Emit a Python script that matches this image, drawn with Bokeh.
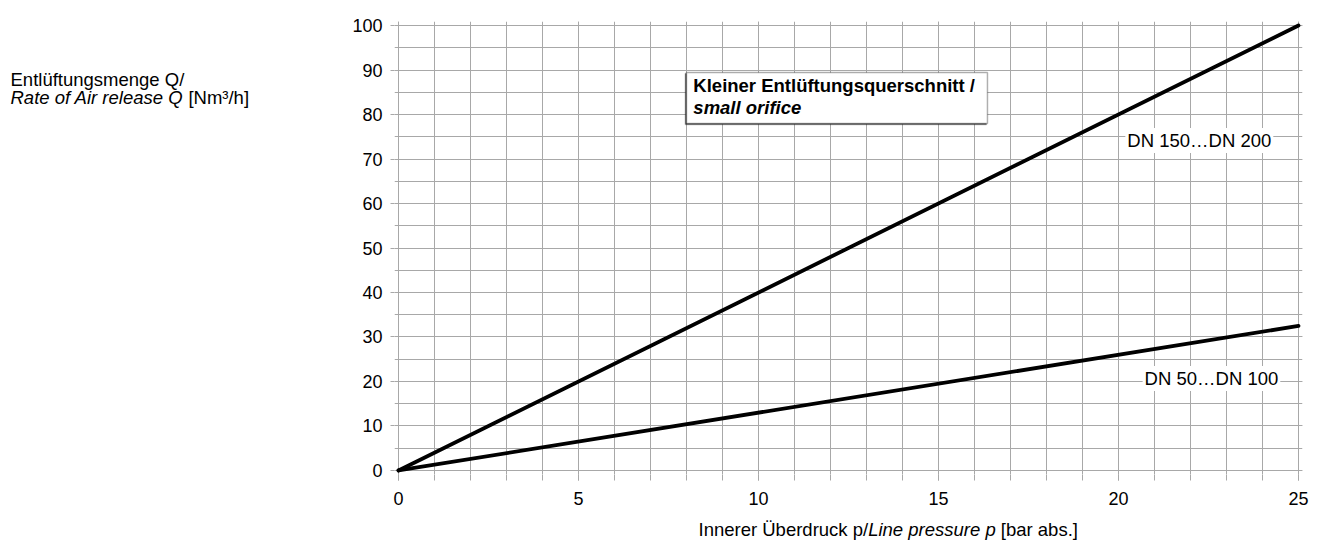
from bokeh.plotting import figure
from bokeh.models import Range1d, SingleIntervalTicker, Label, BoxAnnotation
from bokeh.layouts import row, column
from bokeh.embed import file_html
from bokeh.resources import INLINE

# ---- data ----
pressure = [0, 25]
q_dn150_200 = [0, 100]
q_dn50_100 = [0, 32.5]
series_labels = ["DN 150…DN 200", "DN 50…DN 100"]

FONT = "Liberation Sans"
FS_TICK = "18px"
FS_TXT = 18.5
GRID = "#a8a8a8"

TOTAL_W = 1312
LEFT_W = 338
TOP_H = 515
BOTTOM_H = 35


def add_label(fig, x, y, text, style="normal", bg=None, pad=0):
    kw = dict(x=x, y=y, text=text, text_font=FONT, text_font_size=f"{FS_TXT}px",
              text_font_style=style, text_color="black",
              text_baseline="middle", text_align="left")
    if bg:
        kw["background_fill_color"] = bg
        kw["padding"] = pad
    fig.add_layout(Label(**kw))


def text_figure(w, h):
    f = figure(width=w, height=h, x_range=Range1d(0, w), y_range=Range1d(0, h),
               x_axis_type=None, y_axis_type=None, min_border=0,
               output_backend="svg", toolbar_location=None, title=None)
    f.outline_line_color = None
    f.grid.visible = False
    return f


# ---- main chart ----
p = figure(width=TOTAL_W - LEFT_W, height=TOP_H,
           x_range=Range1d(-0.111, 25.111), y_range=Range1d(-0.9, 100.9),
           output_backend="svg", toolbar_location=None, title=None,
           min_border_left=56, min_border_right=10,
           min_border_top=21, min_border_bottom=41)
p.outline_line_color = None

p.xaxis.ticker = SingleIntervalTicker(interval=5, num_minor_ticks=5)
p.yaxis.ticker = SingleIntervalTicker(interval=10, num_minor_ticks=2)

for g in (p.xgrid, p.ygrid):
    g.grid_line_color = GRID
    g.grid_line_width = 1
    g.minor_grid_line_color = GRID
    g.minor_grid_line_width = 1

for ax in (p.xaxis, p.yaxis):
    ax.axis_line_color = None
    ax.major_tick_line_color = GRID
    ax.minor_tick_line_color = GRID
    ax.major_tick_in = 0
    ax.minor_tick_in = 0
    ax.major_label_text_font = FONT
    ax.major_label_text_font_size = FS_TICK
    ax.major_label_text_color = "black"

p.xaxis.major_tick_out = 6
p.xaxis.minor_tick_out = 6
p.xaxis.major_label_standoff = 11
p.yaxis.major_tick_out = 4
p.yaxis.minor_tick_out = 0
p.yaxis.major_label_standoff = 8

p.line(pressure, q_dn150_200, line_color="black", line_width=3.8, line_cap="round")
p.line(pressure, q_dn50_100, line_color="black", line_width=3.8, line_cap="round")

# info box (with a slight shadow)
p.add_layout(BoxAnnotation(left=8.0 - 0.03, right=16.36 - 0.03, top=89.44 - 0.25, bottom=77.98 - 0.25,
                           fill_color="#333333", fill_alpha=1.0,
                           line_color="#333333", line_width=1.5))
p.add_layout(BoxAnnotation(left=8.0, right=16.36, top=89.44, bottom=77.98,
                           fill_color="white", fill_alpha=1.0,
                           line_color="black", line_width=1.5))
add_label(p, 8.19, 86.52, "Kleiner Entlüftungsquerschnitt /", "bold")
add_label(p, 8.19, 81.57, "small orifice", "bold italic")

# series labels
add_label(p, 20.19, 74.16, series_labels[0], bg="white", pad=2)
add_label(p, 20.67, 20.67, series_labels[1], bg="white", pad=2)

# ---- y-axis title (left panel) ----
left = text_figure(LEFT_W, TOP_H)
add_label(left, 10, TOP_H - 66, "Entlüftungsmenge Q/")
add_label(left, 10, TOP_H - 86, "Rate of Air release Q", "italic")
add_label(left, 10 + (9.337 + 0.278) * FS_TXT, TOP_H - 86, "[Nm³/h]")

# ---- x-axis title (bottom panel) ----
bottom = text_figure(TOTAL_W, BOTTOM_H)
x0 = 698
yb = BOTTOM_H - 14
add_label(bottom, x0, yb, "Innerer Überdruck p/")
add_label(bottom, x0 + 9.170 * FS_TXT, yb, "Line pressure p", "italic")
add_label(bottom, x0 + (9.170 + 6.892 + 0.278) * FS_TXT, yb, "[bar abs.]")

layout = column(row(left, p), bottom)
open("out.html", "w").write(file_html(layout, INLINE))
